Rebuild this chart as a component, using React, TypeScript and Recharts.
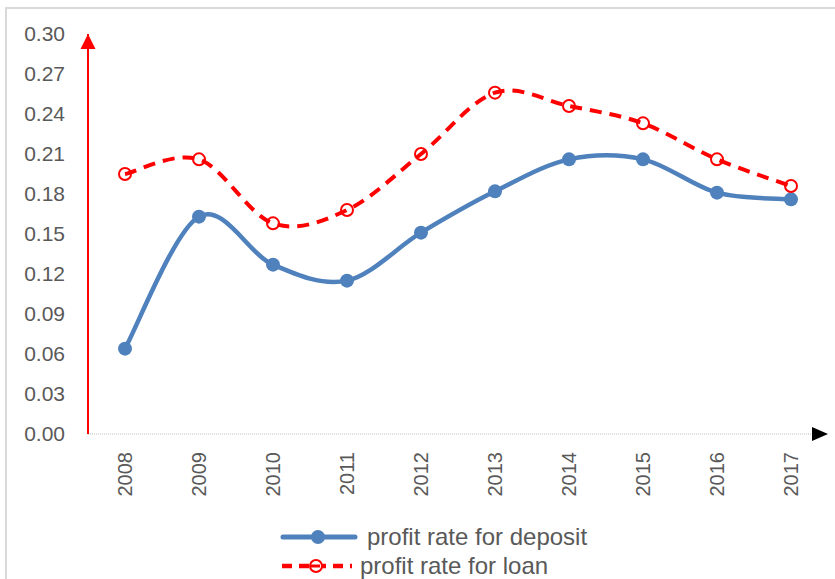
import React from "react";
import { LineChart, Line, XAxis, YAxis } from "recharts";

// chart values
const years = ["2008", "2009", "2010", "2011", "2012", "2013", "2014", "2015", "2016", "2017"];
const depositRate = [0.064, 0.163, 0.127, 0.115, 0.151, 0.182, 0.206, 0.206, 0.181, 0.176];
const loanRate = [0.195, 0.206, 0.158, 0.168, 0.21, 0.256, 0.246, 0.233, 0.206, 0.186];
const yTicks = [0, 0.03, 0.06, 0.09, 0.12, 0.15, 0.18, 0.21, 0.24, 0.27, 0.3];

const BLUE = "#4f81bd";
const RED = "#ff0000";
const TEXT = "#595959";
const FONT = "'Liberation Sans', Arial, sans-serif";

const data = years.map((year, i) => ({
  year,
  deposit: depositRate[i],
  loan: loanRate[i],
}));

// Excel-like smoothed line (Catmull-Rom style bezier)
const smoothCurve = (context: any) => {
  let pts: [number, number][] = [];
  return {
    areaStart() {},
    areaEnd() {},
    lineStart() {
      pts = [];
    },
    point(x: number, y: number) {
      pts.push([+x, +y]);
    },
    lineEnd() {
      if (!pts.length) return;
      context.moveTo(pts[0][0], pts[0][1]);
      for (let i = 0; i < pts.length - 1; i++) {
        const p0 = pts[i - 1] || pts[i];
        const p1 = pts[i];
        const p2 = pts[i + 1];
        const p3 = pts[i + 2] || p2;
        context.bezierCurveTo(
          p1[0] + (p2[0] - p0[0]) / 6,
          p1[1] + (p2[1] - p0[1]) / 6,
          p2[0] - (p3[0] - p1[0]) / 6,
          p2[1] - (p3[1] - p1[1]) / 6,
          p2[0],
          p2[1]
        );
      }
    },
  };
};

const YearTick = (props: any) => {
  const { x, payload } = props;
  const y = 452;
  return (
    <text
      x={x}
      y={y}
      transform={`rotate(-90, ${x}, ${y})`}
      textAnchor="end"
      dy="0.35em"
      fill={TEXT}
      fontSize={20}
      fontFamily={FONT}
    >
      {payload.value}
    </text>
  );
};

function Legend() {
  return (
    <div style={{ position: "absolute", left: 280, top: 522, fontFamily: FONT, fontSize: 24, color: TEXT }}>
      <div style={{ display: "flex", alignItems: "center", height: 29 }}>
        <svg width={80} height={20}>
          <line x1={3} y1={10} x2={75} y2={10} stroke={BLUE} strokeWidth={5} strokeLinecap="round" />
          <circle cx={38} cy={10} r={7} fill={BLUE} />
        </svg>
        <span style={{ marginLeft: 7 }}>profit rate for deposit</span>
      </div>
      <div style={{ display: "flex", alignItems: "center", height: 29 }}>
        <svg width={80} height={20}>
          <line x1={2} y1={10} x2={72} y2={10} stroke={RED} strokeWidth={4.5} strokeDasharray="10 7" />
          <circle cx={36} cy={10} r={6} fill="#fff" stroke={RED} strokeWidth={2} />
          <line x1={30} y1={10} x2={40} y2={10} stroke={RED} strokeWidth={3} />
        </svg>
        <span style={{ marginLeft: 0 }}>profit rate for loan</span>
      </div>
    </div>
  );
}

export default function App() {
  return (
    <div
      style={{
        position: "absolute",
        left: 0,
        top: 0,
        width: 835,
        height: 579,
        overflow: "hidden",
        background: "#fff",
      }}
    >
      <svg width={0} height={0} style={{ position: "absolute" }}>
        <defs>
          <marker
            id="arrowRed"
            markerUnits="userSpaceOnUse"
            markerWidth={16}
            markerHeight={16}
            refX={15}
            refY={8}
            orient="auto-start-reverse"
          >
            <path d="M0,0.5 L15,8 L0,15.5 z" fill={RED} />
          </marker>
          <marker
            id="arrowBlack"
            markerUnits="userSpaceOnUse"
            markerWidth={16}
            markerHeight={16}
            refX={16}
            refY={8}
            orient="auto"
          >
            <path d="M0,1 L16,8 L0,15 z" fill="#000" />
          </marker>
        </defs>
      </svg>
      <div
        style={{
          position: "absolute",
          left: 5,
          top: 7,
          right: 0,
          bottom: 0,
          borderTop: "2px solid #d9d9d9",
          borderLeft: "2px solid #d9d9d9",
        }}
      />
      <div style={{ position: "absolute", left: 0, top: 0 }}>
        <LineChart width={835} height={579} data={data} margin={{ top: 34, right: 7, bottom: 0, left: 0 }}>
          <XAxis
            dataKey="year"
            height={145}
            padding={{ left: 37, right: 37 }}
            tickLine={false}
            tick={<YearTick />}
            interval={0}
            axisLine={{ stroke: "#bfbfbf", strokeWidth: 1, strokeDasharray: "1 1", markerEnd: "url(#arrowBlack)" }}
          />
          <YAxis
            width={88}
            domain={[0, 0.3]}
            ticks={yTicks}
            tickFormatter={(v: number) => v.toFixed(2)}
            tickLine={false}
            tickSize={6}
            tickMargin={17}
            tick={{ fill: TEXT, fontSize: 21, fontFamily: FONT }}
            axisLine={{ stroke: RED, strokeWidth: 2, markerStart: "url(#arrowRed)" }}
          />
          <Line
            dataKey="deposit"
            type={smoothCurve as any}
            stroke={BLUE}
            strokeWidth={4.5}
            dot={{ r: 7, fill: BLUE, stroke: BLUE, strokeWidth: 0 }}
            activeDot={false}
            isAnimationActive={false}
          />
          <Line
            dataKey="loan"
            type={smoothCurve as any}
            stroke={RED}
            strokeWidth={4}
            strokeDasharray="12 8"
            dot={{ r: 6, fill: "none", stroke: RED, strokeWidth: 2, strokeDasharray: "none" }}
            activeDot={false}
            isAnimationActive={false}
          />
        </LineChart>
      </div>
      <Legend />
    </div>
  );
}
